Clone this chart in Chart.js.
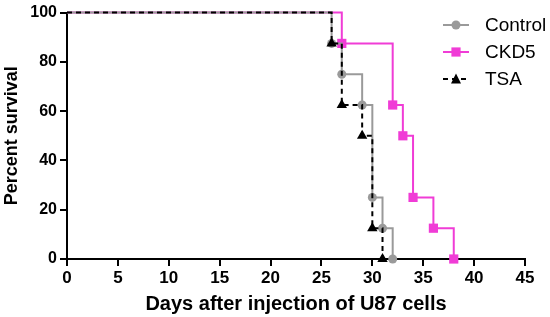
<!DOCTYPE html>
<html>
<head>
<meta charset="utf-8">
<script src="https://cdn.jsdelivr.net/npm/chart.js@4/dist/chart.umd.min.js"></script>
<style>
  html, body { margin: 0; padding: 0; background: #fff; }
  #wrap { width: 550px; height: 317px; position: relative; }
</style>
</head>
<body>
<div id="wrap"><canvas id="chart"></canvas></div>
<script>
// survival curves (days, percent)
var controlDays = [0, 26, 27, 29, 30, 31, 32];
var controlPct  = [100, 87.5, 75, 62.5, 25, 12.5, 0];
var ckd5Days = [0, 27, 32, 33, 34, 36, 38];
var ckd5Pct  = [100, 87.5, 62.5, 50, 25, 12.5, 0];
var tsaDays = [0, 26, 27, 29, 30, 31];
var tsaPct  = [100, 87.5, 62.5, 50, 12.5, 0];
var xTicks = [0, 5, 10, 15, 20, 25, 30, 35, 40, 45];
var yTicks = [0, 20, 40, 60, 80, 100];

var grey = '#9a9a9a';
var pink = '#f03cd6';
var black = '#000000';
var font = '"Liberation Sans", Arial, sans-serif';

function toPoints(days, pct) {
    return days.map(function(d, i) { return {x: d, y: pct[i]}; });
}
// no marker at the start point
function radii(n, r) {
    var a = [0];
    for (var i = 1; i < n; i++) a.push(r);
    return a;
}

var series = [
    {label: 'Control', color: grey, style: 'circle', dash: [], r: 4.5},
    {label: 'CKD5', color: pink, style: 'rect', dash: [], r: 6.5},
    {label: 'TSA', color: black, style: 'triangle', dash: [5, 4], r: 6}
];

function drawMarker(ctx, style, x, y, color) {
    ctx.save();
    ctx.fillStyle = color;
    ctx.beginPath();
    if (style == 'circle') {
        ctx.arc(x, y, 4.5, 0, Math.PI * 2);
    } else if (style == 'rect') {
        ctx.rect(x - 4.6, y - 4.6, 9.2, 9.2);
    } else {
        ctx.moveTo(x, y - 5.5);
        ctx.lineTo(x + 5, y + 4.5);
        ctx.lineTo(x - 5, y + 4.5);
        ctx.closePath();
    }
    ctx.fill();
    ctx.restore();
}

// legend with a line piece and the marker, like the original
var legendPlugin = {
    id: 'kmLegend',
    afterDraw: function(c) {
        var ctx = c.ctx;
        var x0 = 443, x1 = 469, tx = 485;
        var ys = [25, 52, 79];
        series.forEach(function(s, i) {
            var y = ys[i];
            ctx.save();
            ctx.strokeStyle = s.color;
            ctx.lineWidth = 2;
            ctx.setLineDash(s.dash);
            ctx.beginPath();
            ctx.moveTo(x0, y);
            ctx.lineTo(x1, y);
            ctx.stroke();
            ctx.restore();
            drawMarker(ctx, s.style, (x0 + x1) / 2, y, s.color);
            ctx.fillStyle = '#000';
            ctx.font = '19px ' + font;
            ctx.textBaseline = 'middle';
            ctx.fillText(s.label, tx, y + 1);
        });
    }
};

function dataset(s, days, pct, ord) {
    return {
        label: s.label,
        data: toPoints(days, pct),
        stepped: true,
        borderColor: s.color,
        backgroundColor: s.color,
        borderWidth: 2,
        borderDash: s.dash,
        pointStyle: s.style,
        pointRadius: radii(days.length, s.r),
        pointBorderWidth: 0,
        pointBackgroundColor: s.color,
        fill: false,
        clip: false,
        order: ord
    };
}

var ctx = document.getElementById('chart').getContext('2d');
var chart = new Chart(ctx, {
    type: 'line',
    data: {
        datasets: [
            dataset(series[2], tsaDays, tsaPct, 0),
            dataset(series[0], controlDays, controlPct, 1),
            dataset(series[1], ckd5Days, ckd5Pct, 2)
        ]
    },
    options: {
        responsive: true,
        maintainAspectRatio: false,
        animation: false,
        layout: {padding: {top: 7, right: 25, left: 0, bottom: 0}},
        plugins: {legend: {display: false}, tooltip: {enabled: false}},
        scales: {
            x: {
                type: 'linear',
                min: 0,
                max: 45,
                afterBuildTicks: function(axis) {
                    axis.ticks = xTicks.map(function(v) { return {value: v}; });
                },
                afterFit: function(axis) { axis.height = 58; },
                border: {color: '#000', width: 2},
                grid: {drawOnChartArea: false, drawTicks: true, tickLength: 7, color: '#000', lineWidth: 2},
                ticks: {
                    color: '#000',
                    padding: 2,
                    maxRotation: 0,
                    font: {family: font, size: 17, weight: 'bold'}
                },
                title: {
                    display: true,
                    text: 'Days after injection of U87 cells',
                    color: '#000',
                    padding: {top: 0, bottom: 1},
                    font: {family: font, size: 20, weight: 'bold'}
                }
            },
            y: {
                min: 0,
                max: 100,
                afterBuildTicks: function(axis) {
                    axis.ticks = yTicks.map(function(v) { return {value: v}; });
                },
                afterFit: function(axis) { axis.width = 67; },
                border: {color: '#000', width: 2},
                grid: {drawOnChartArea: false, drawTicks: true, tickLength: 7, color: '#000', lineWidth: 2},
                ticks: {
                    color: '#000',
                    padding: 3,
                    font: {family: font, size: 16, weight: 'bold'}
                },
                title: {
                    display: true,
                    text: 'Percent survival',
                    color: '#000',
                    padding: {top: 1, bottom: 0},
                    font: {family: font, size: 18, weight: 'bold'}
                }
            }
        }
    },
    plugins: [legendPlugin]
});
</script>
</body>
</html>
